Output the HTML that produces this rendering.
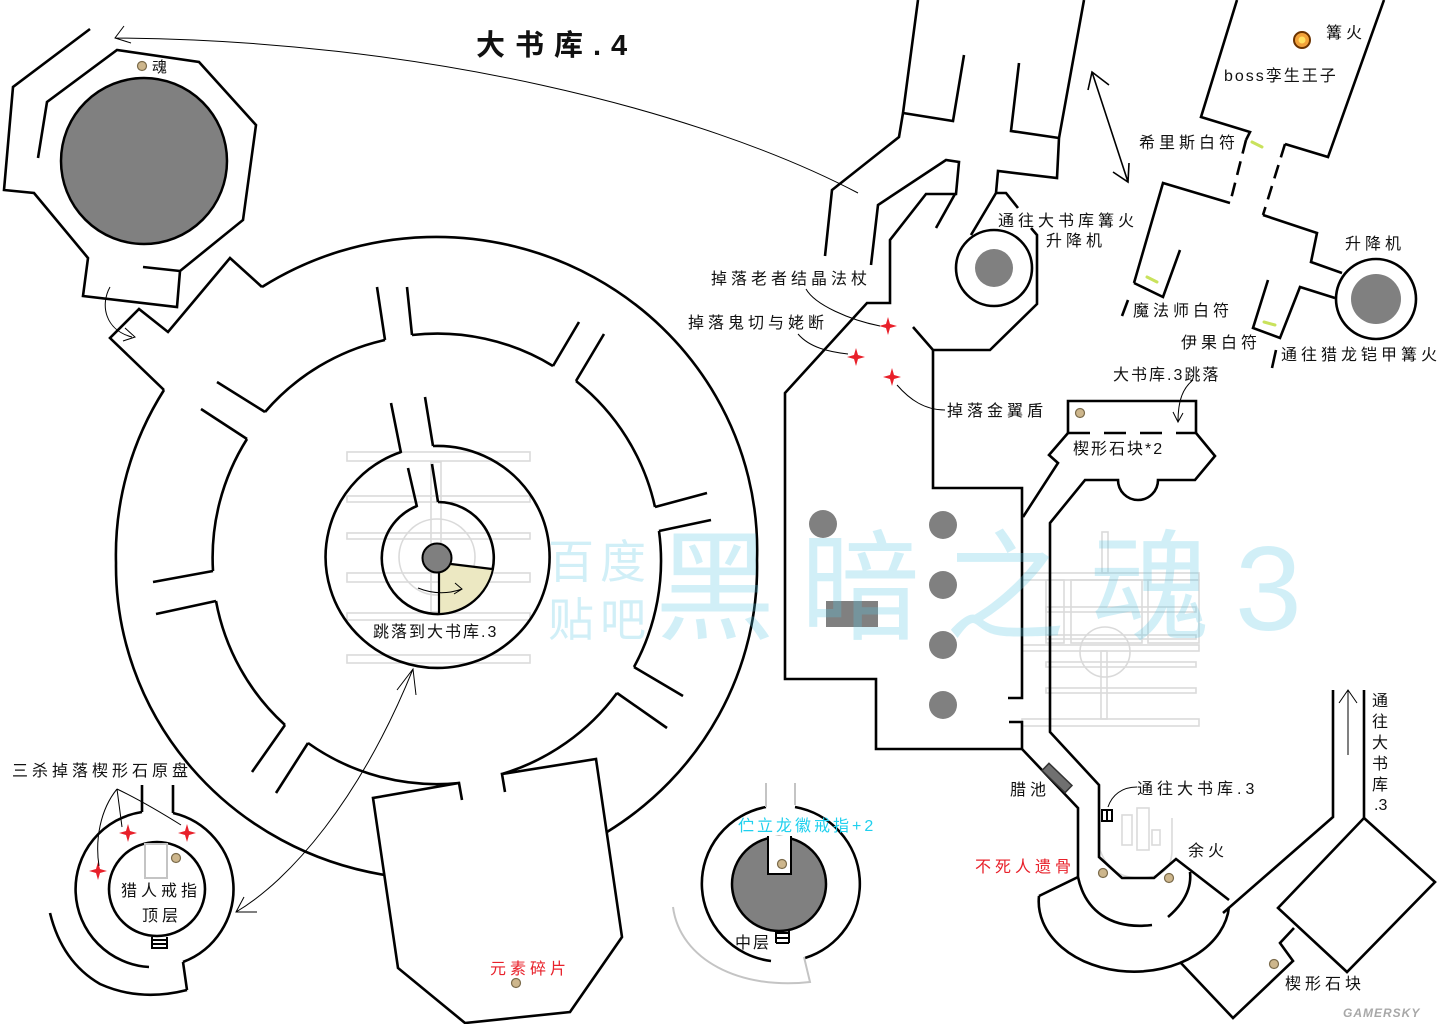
<!DOCTYPE html>
<html><head><meta charset="utf-8">
<style>
html,body{margin:0;padding:0;background:#fff;}
svg{display:block;}
text{font-family:"Liberation Sans","Noto Sans CJK SC",sans-serif;fill:#111;}
</style></head><body>
<svg width="1440" height="1024" viewBox="0 0 1440 1024" xmlns="http://www.w3.org/2000/svg">
<rect width="1440" height="1024" fill="#fff"/>

<!-- faint maze logos -->
<g fill="none" stroke="#dadada" stroke-width="1.6">
  <rect x="347" y="452" width="183" height="9"/>
  <rect x="347" y="496" width="183" height="6"/>
  <rect x="347" y="533" width="183" height="6"/>
  <rect x="347" y="573" width="183" height="9"/>
  <rect x="347" y="613" width="183" height="7"/>
  <rect x="347" y="655" width="183" height="8"/>
  <rect x="431" y="462" width="10" height="150"/>
  <circle cx="437" cy="557" r="38"/>
  <rect x="1102" y="532" width="6" height="41"/>
  <rect x="1022" y="573" width="177" height="7"/>
  <rect x="1046" y="580" width="18" height="63"/>
  <rect x="1071" y="580" width="71" height="63"/>
  <rect x="1148" y="580" width="51" height="63"/>
  <rect x="1046" y="607" width="150" height="5"/>
  <rect x="1046" y="635" width="150" height="4"/>
  <rect x="1022" y="645" width="177" height="6"/>
  <rect x="1046" y="662" width="150" height="5"/>
  <rect x="1046" y="688" width="150" height="5"/>
  <rect x="1022" y="719" width="177" height="7"/>
  <rect x="1101" y="651" width="6" height="68"/>
  <circle cx="1105" cy="652" r="25"/>
  <rect x="1122" y="815" width="10" height="30"/>
  <rect x="1137" y="808" width="12" height="42"/>
  <rect x="1152" y="830" width="8" height="15"/>
  <path d="M1100,820 L1100,850 Q1110,878 1140,878 Q1172,878 1172,850 L1172,818"/>
</g>

<!-- gray fills -->
<circle cx="144" cy="161" r="83" fill="#808080" stroke="#000" stroke-width="2.5"/>
<g fill="#808080">
  <circle cx="823" cy="524" r="14"/>
  <circle cx="943" cy="525" r="14"/>
  <circle cx="943" cy="585" r="14"/>
  <circle cx="943" cy="645" r="14"/>
  <circle cx="943" cy="705" r="14"/>
  <rect x="826" y="601" width="52" height="26"/>
</g>

<!-- walls -->
<g fill="none" stroke="#000" stroke-width="2.6" stroke-linejoin="miter">
  <polyline points="90,29 13,87 4,190 34,193 88,258 83,296 177,307 180,271 243,220 256,125 199,62 117,50 47,102 38,158"/>
  <line x1="143" y1="267" x2="180" y2="271"/>
  <polyline points="164,390 110,338 139,309 168,332 230,258 262,287"/>
  <path d="M262,287 A321,313 0 0 1 757,560 A321,313 0 0 1 607,832"/>
  <path d="M385,875 A321,313 0 0 1 116,563 A321,313 0 0 1 164,390"/>
  <path d="M412,335 A222,222 0 0 1 553,366 M576,381 A222,222 0 0 1 655,507 M659,531 A222,222 0 0 1 634,667 M617,693 A222,222 0 0 1 502,774 M459,783 A222,222 0 0 1 308,743 M285,725 A222,222 0 0 1 216,601 M213,571 A222,222 0 0 1 247,439 M265,412 A222,222 0 0 1 385,340"/>
  <path d="M377,287 L385,340 M407,287 L412,335 M217,382 L265,412 M201,409 L247,439 M153,582 L213,571 M156,614 L216,601 M579,322 L553,366 M604,334 L576,381 M707,493 L655,507 M711,520 L659,531 M667,728 L617,693 M683,696 L634,667 M252,772 L285,725 M276,793 L308,743"/>
  <path d="M391,403 L401,453 M425,397 L433,446"/>
  <path d="M433,446 A112,111 0 1 1 401,452"/>
  <path d="M408,468 L417,507 M432,464 L438,502"/>
  <path d="M438,502 A56,56 0 1 1 417,506"/>
  <polyline points="462,800 459,783 373,798 398,968 465,1023 570,1012 622,937 596,759 502,774 505,792"/>

  <path d="M173,813 A78,78 0 0 1 183,962 M149,967 A78,78 0 0 1 142,812"/>
  <path d="M142,785 L142,812 M173,785 L173,813 M183,962 L187,990"/>
  <ellipse cx="157" cy="889" rx="48" ry="47"/>
  <path d="M50,913 Q62,962 100,984 Q140,1002 187,990"/>

  <path d="M795,807 A79,78 0 0 1 805,958 M771,961 A79,78 0 0 1 766,807"/>

  <polyline points="918,0 903,113 899,137 832,190 825,256"/>
  <polyline points="903,113 953,121 964,55"/>
  <polyline points="871,265 878,205 946,160 959,162 956,194 926,194 890,240 890,303 867,303 785,393 785,679 876,679 876,749 1022,749 1078,808 1078,877 1039,896"/>
  <line x1="955" y1="194" x2="936" y2="228"/>
  <polyline points="1084,0 1059,138 1057,178 998,171 996,193 971,235"/>
  <polyline points="1059,138 1011,131 1019,63"/>
  <polyline points="996,193 1006,193 1018,208"/>
  <polyline points="1031,228 1037,235 1037,304 990,350 933,350 913,327"/>
  <polyline points="933,350 933,488 1022,488 1022,698 1008,698"/>
  <polyline points="1009,722 1022,722 1022,749"/>
  <circle cx="994" cy="268" r="38"/>

  <polyline points="1237,0 1201,117 1250,132 1246,140"/>
  <path d="M1246,140 L1230,203" stroke-dasharray="14,8"/>
  <polyline points="1230,203 1163,183 1134,283"/>
  <polyline points="1180,250 1163,297 1134,283"/>
  <path d="M1128,300 L1122,316"/>
  <polyline points="1384,0 1328,157 1285,144"/>
  <path d="M1285,144 L1263,215" stroke-dasharray="14,8"/>
  <polyline points="1263,215 1317,233 1311,262 1342,273"/>
  <polyline points="1335,298 1300,287 1280,338 1253,328 1268,280"/>
  <path d="M1276,350 L1272,368"/>
  <circle cx="1376" cy="299" r="40"/>

  <polyline points="1068,433 1068,401 1196,401 1196,433"/>
  <path d="M1068,433 L1196,433" stroke-dasharray="22,14"/>
  <polyline points="1068,433 1049,455 1058,463 1023,517"/>
  <path d="M1196,433 L1215,456 L1195,480 L1158,480 A20,20 0 0 1 1118,480 L1085,480 L1050,523 L1050,732 L1099,785 L1099,857 L1122,878 L1154,878 L1176,859 L1229,900"/>

  <path d="M1039,896 A95,70 0 0 0 1229,907"/>
  <path d="M1078,877 C1085,910 1110,930 1152,925"/>
  <path d="M1168,917 C1182,905 1192,890 1190,872"/>

  <polyline points="1333,690 1333,817 1223,913"/>
  <line x1="1364" y1="690" x2="1364" y2="818"/>
  <polygon points="1364,818 1435,882 1347,972 1278,908"/>
  <polyline points="1180,962 1233,1018 1293,961 1280,943 1294,928"/>
</g>

<!-- inner gray circles -->
<circle cx="994" cy="268" r="19" fill="#808080"/>
<circle cx="1376" cy="299" r="25" fill="#808080"/>
<circle cx="779" cy="884" r="47" fill="#808080" stroke="#000" stroke-width="2.5"/>
<path d="M768,836 L768,874 L791,874 L791,836" fill="#fff" stroke="#000" stroke-width="2"/>

<!-- center of jump circle -->
<path d="M439,563 L492,569 A56,56 0 0 1 439,613 Z" fill="#ece8c2"/>
<path d="M451,564 L492,569 M439,573 L439,613" stroke="#000" stroke-width="2.2" fill="none"/>
<circle cx="437" cy="558" r="14.5" fill="#7f7f7f" stroke="#000" stroke-width="2"/>
<path d="M418,588 Q440,597 462,589 M455,583 L462,589 L454,594" stroke="#000" stroke-width="1" fill="none"/>

<!-- light gray bits -->
<g fill="none" stroke="#c4c4c4" stroke-width="2">
  <path d="M673,907 C680,960 740,990 810,982 L804,957"/>
  <path d="M766,783 L766,807 M795,783 L795,805"/>
  <rect x="145" y="844" width="22" height="34"/>
</g>

<!-- 腊池 -->
<rect x="1041" y="773" width="32" height="10" fill="#707070" stroke="#333" stroke-width="1.5" transform="rotate(44 1057 778)"/>

<!-- ladders -->
<g stroke="#000" stroke-width="2" fill="none">
  <path d="M152,937 L152,949 M167,937 L167,949 M152,940 L167,940 M152,944 L167,944 M152,948 L167,948"/>
  <path d="M776,930 L776,943 M789,930 L789,943 M776,933 L789,933 M776,938 L789,938 M776,943 L789,943"/>
  <path d="M1101,810 L1113,810 M1101,821 L1113,821 M1102,810 L1102,821 M1107,810 L1107,821 M1112,810 L1112,821"/>
</g>

<!-- green marks -->
<g stroke="#c9e25c" stroke-width="3" stroke-linecap="round">
  <line x1="1252" y1="142" x2="1262" y2="147"/>
  <line x1="1147" y1="277" x2="1157" y2="282"/>
  <line x1="1264" y1="322" x2="1275" y2="325"/>
</g>

<!-- bonfire -->
<circle cx="1302" cy="40" r="8" fill="#f2a23a" stroke="#6b3300" stroke-width="2"/>
<circle cx="1302" cy="40" r="3.5" fill="#ffe060"/>

<!-- dots -->
<g fill="#cdb68c" stroke="#7a6a4a" stroke-width="1.2">
  <circle cx="142" cy="66" r="4.5"/>
  <circle cx="1080" cy="413" r="4.5"/>
  <circle cx="176" cy="858" r="4.5"/>
  <circle cx="782" cy="864" r="4.5"/>
  <circle cx="516" cy="983" r="4.5"/>
  <circle cx="1103" cy="873" r="4.5"/>
  <circle cx="1169" cy="878" r="4.5"/>
  <circle cx="1274" cy="964" r="4.5"/>
</g>

<!-- red stars -->
<g fill="#e8202a">
  <path transform="translate(888,326)" d="M0,-9 L2,-2 L9,0 L2,2 L0,9 L-2,2 L-9,0 L-2,-2 Z"/>
  <path transform="translate(856,357)" d="M0,-9 L2,-2 L9,0 L2,2 L0,9 L-2,2 L-9,0 L-2,-2 Z"/>
  <path transform="translate(892,377)" d="M0,-9 L2,-2 L9,0 L2,2 L0,9 L-2,2 L-9,0 L-2,-2 Z"/>
  <path transform="translate(128,833)" d="M0,-9 L2,-2 L9,0 L2,2 L0,9 L-2,2 L-9,0 L-2,-2 Z"/>
  <path transform="translate(187,833)" d="M0,-9 L2,-2 L9,0 L2,2 L0,9 L-2,2 L-9,0 L-2,-2 Z"/>
  <path transform="translate(98,871)" d="M0,-9 L2,-2 L9,0 L2,2 L0,9 L-2,2 L-9,0 L-2,-2 Z"/>
</g>

<!-- thin connectors -->
<g fill="none" stroke="#000" stroke-width="1">
  <path d="M858,193 C700,110 420,40 115,38 M124,26 L115,38 L131,43"/>
  <path d="M110,287 C100,305 105,330 132,337 M125,328 L135,337 L123,341"/>
  <path d="M236,912 C290,880 360,800 413,669 M397,690 L413,669 L416,695 M244,897 L236,912 L257,912"/>
  <path d="M806,289 C815,305 850,320 880,326"/>
  <path d="M798,334 C810,348 830,352 848,354"/>
  <path d="M897,385 C910,400 925,410 945,410"/>
  <path d="M117,789 C100,810 95,840 99,866 M117,789 L122,827 M117,789 C140,800 165,815 181,825"/>
  <path d="M1193,380 C1183,388 1178,400 1178,422 M1173,412 L1178,422 L1183,413"/>
  <path d="M1108,807 C1112,795 1122,787 1137,787"/>
  <path d="M1348,755 L1348,690 M1339,703 L1348,690 L1357,703"/>
</g>
<path d="M1092,72 L1128,182 M1088,90 L1092,72 L1109,85 M1113,172 L1128,182 L1129,163" fill="none" stroke="#000" stroke-width="1.6"/>

<!-- labels -->
<g font-size="16" letter-spacing="4">
  <text x="476" y="55" font-size="29" font-weight="bold" letter-spacing="10">大书库.4</text>
  <text x="152" y="72" font-size="15" letter-spacing="0">魂</text>
  <text x="1326" y="38">篝火</text>
  <text x="1224" y="81" letter-spacing="2">boss孪生王子</text>
  <text x="1139" y="148">希里斯白符</text>
  <text x="998" y="226">通往大书库篝火</text>
  <text x="1046" y="246">升降机</text>
  <text x="1345" y="249">升降机</text>
  <text x="711" y="284">掉落老者结晶法杖</text>
  <text x="1133" y="316">魔法师白符</text>
  <text x="688" y="328">掉落鬼切与姥断</text>
  <text x="1181" y="348">伊果白符</text>
  <text x="1281" y="360">通往猎龙铠甲篝火</text>
  <text x="1113" y="380" letter-spacing="2">大书库.3跳落</text>
  <text x="947" y="416">掉落金翼盾</text>
  <text x="1073" y="454" letter-spacing="2">楔形石块*2</text>
  <text x="373" y="637" letter-spacing="2">跳落到大书库.3</text>
  <text x="12" y="776">三杀掉落楔形石原盘</text>
  <text x="121" y="896">猎人戒指</text>
  <text x="142" y="921">顶层</text>
  <text x="490" y="974" style="fill:#e8202a">元素碎片</text>
  <text x="738" y="831" letter-spacing="3" style="fill:#1fd0ee">伫立龙徽戒指+2</text>
  <text x="735" y="948" letter-spacing="2">中层</text>
  <text x="1010" y="795">腊池</text>
  <text x="1137" y="794">通往大书库.3</text>
  <text x="1188" y="856">余火</text>
  <text x="975" y="872" style="fill:#e8202a">不死人遗骨</text>
  <text x="1285" y="989">楔形石块</text>
  <text x="1372" y="706" letter-spacing="0">通</text>
  <text x="1372" y="727" letter-spacing="0">往</text>
  <text x="1372" y="748" letter-spacing="0">大</text>
  <text x="1372" y="769" letter-spacing="0">书</text>
  <text x="1372" y="790" letter-spacing="0">库</text>
  <text x="1374" y="810" letter-spacing="0">.3</text>
</g>

<!-- watermark -->
<g opacity="0.28">
  <text x="655" y="630" font-size="120" letter-spacing="25" style="fill:#5cc8e6">黑暗之魂3</text>
  <text x="548" y="578" font-size="46" letter-spacing="6" style="fill:#5cc8e6">百度</text>
  <text x="548" y="636" font-size="46" letter-spacing="6" style="fill:#5cc8e6">贴吧</text>
</g>
<text x="1343" y="1017" font-size="12" font-weight="bold" font-style="italic" letter-spacing="1" style="fill:#a8a8a8">GAMERSKY</text>
</svg>
</body></html>
